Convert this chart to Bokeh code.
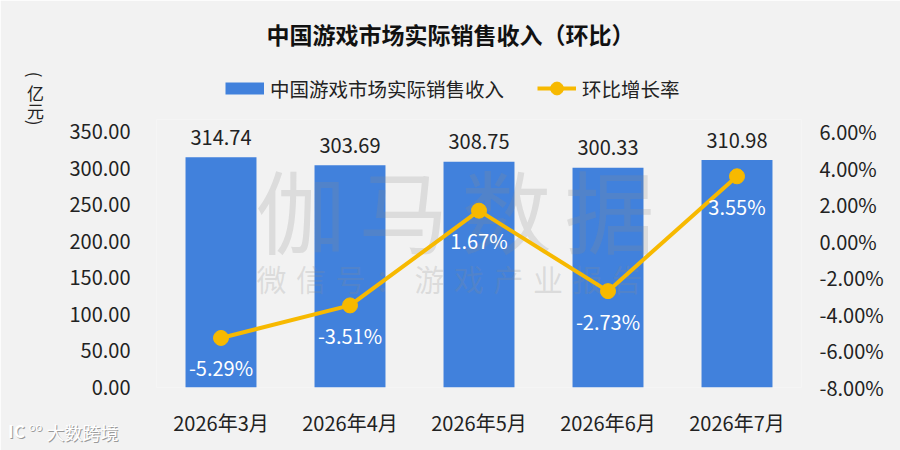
import math
from bokeh.plotting import figure
from bokeh.models import (Range1d, LinearAxis, FixedTicker, PrintfTickFormatter,
                          Legend, LegendItem, Label, ColumnDataSource, FactorRange, GridBox)
from bokeh.embed import file_html
from bokeh.resources import INLINE
from bokeh.core.properties import value

# ---------------- data ----------------
months = ["2026年3月", "2026年4月", "2026年5月", "2026年6月", "2026年7月"]
revenue = [314.74, 303.69, 308.75, 300.33, 310.98]
mom_pct = [-5.29, -3.51, 1.67, -2.73, 3.55]
left_ticks = [0, 50, 100, 150, 200, 250, 300, 350]
right_ticks = [-8, -6, -4, -2, 0, 2, 4, 6]
title_text = "中国游戏市场实际销售收入（环比）"
bar_name = "中国游戏市场实际销售收入"
line_name = "环比增长率"
unit_text = ["(", "亿", "元", ")"]
watermark_big = "伽马数据"
watermark_small = "微信号：游戏产业报告"
logo_text = "大数跨境"

# ---------------- style ----------------
FONT = "Noto Sans CJK SC"
BG = "#f2f2f2"
BLUE = "#4181dc"
GOLD = "#f7b900"
TXT = "#222222"
W, H = 900, 450
ML, MR, MB = 156, 99, 63
AXIS_TOP = 131          # pixel row of the top tick (350 / 6%)
MT = 119                # frame top, a little above so top value labels are not clipped
L_MIN, L_MAX = left_ticks[0], left_ticks[-1]
R_MIN, R_MAX = right_ticks[0], right_ticks[-1]
span_px = (H - MB) - AXIS_TOP
extra = (AXIS_TOP - MT) / span_px
L_END = L_MAX + (L_MAX - L_MIN) * extra
R_END = R_MAX + (R_MAX - R_MIN) * extra

src = ColumnDataSource(dict(
    m=months,
    rev=revenue,
    rev_lbl=[f"{v:.2f}" for v in revenue],
    mom=mom_pct,
    mom_lbl=[f"{v:.2f}%" for v in mom_pct],
))

# ---------------- main chart ----------------
p = figure(width=W, height=H, x_range=FactorRange(*months, range_padding=0),
           y_range=Range1d(L_MIN, L_END), output_backend="svg", toolbar_location=None,
           min_border_left=ML, min_border_right=MR, min_border_top=MT, min_border_bottom=MB,
           background_fill_color=BG, border_fill_color=BG, outline_line_color=None,
           frame_align=False)
p.extra_y_ranges = {"pct": Range1d(R_MIN, R_END)}
p.grid.grid_line_color = None

p.vbar(x="m", top="rev", width=0.55, source=src, fill_color=BLUE, line_color=None)
p.text(x="m", y="rev", text="rev_lbl", source=src, text_align="center",
       text_baseline="middle", y_offset=-20, text_font=value(FONT),
       text_font_size="20px", text_color=TXT)

# watermark between bars and line (frame-relative screen units)
def fx(x):
    return x - ML

def fy(y):
    return (H - MB) - y

for i, ch in enumerate(watermark_big):
    p.add_layout(Label(x=fx(300 + 103 * i), y=fy(207), x_units="screen", y_units="screen",
                       text=ch, text_align="center", text_baseline="middle",
                       text_font=FONT, text_font_size="90px", text_color="#8c8c8c",
                       text_alpha=0.22))
for i, ch in enumerate(watermark_small):
    p.add_layout(Label(x=fx(271 + 39.5 * i), y=fy(277), x_units="screen", y_units="screen",
                       text=ch, text_align="center", text_baseline="middle",
                       text_font=FONT, text_font_size="30px", text_color="#8c8c8c",
                       text_alpha=0.22))

p.line(x="m", y="mom", source=src, y_range_name="pct", line_color=GOLD,
       line_width=4, level="overlay")
p.scatter(x="m", y="mom", source=src, y_range_name="pct", size=15,
          fill_color=GOLD, line_color=GOLD, level="overlay")
p.text(x="m", y="mom", text="mom_lbl", source=src, y_range_name="pct",
       text_align="center", text_baseline="middle", y_offset=30,
       text_font=value(FONT), text_font_size="20px", text_color="white", level="overlay")

for ax in [p.xaxis[0], p.yaxis[0]]:
    ax.axis_line_color = None
    ax.major_tick_line_color = None
    ax.minor_tick_line_color = None
    ax.major_tick_out = 0
    ax.major_tick_in = 0
    ax.major_label_text_font = FONT
    ax.major_label_text_font_size = "20px"
    ax.major_label_text_color = TXT
p.xaxis.major_label_standoff = 20
p.yaxis.ticker = FixedTicker(ticks=left_ticks)
p.yaxis.formatter = PrintfTickFormatter(format="%.2f")
p.yaxis.major_label_standoff = 26

rax = LinearAxis(y_range_name="pct", ticker=FixedTicker(ticks=right_ticks),
                 formatter=PrintfTickFormatter(format="%.2f%%"),
                 axis_line_color=None, major_tick_line_color=None, minor_tick_line_color=None,
                 major_tick_out=0, major_tick_in=0, major_label_standoff=18,
                 major_label_text_font=FONT, major_label_text_font_size="20px",
                 major_label_text_color=TXT)
p.add_layout(rax, "right")

# ---------------- transparent overlay for texts outside the plot area ----------------
ov = figure(width=W, height=H, x_range=Range1d(0, W), y_range=Range1d(0, H),
            output_backend="svg", toolbar_location=None, x_axis_type=None, y_axis_type=None,
            min_border=0, background_fill_color=None, background_fill_alpha=0,
            border_fill_color=None, border_fill_alpha=0, outline_line_color=None,
            frame_align=False)

def oy(y):
    return H - y

nan = float("nan")
sw_bar = ov.line(x=[nan], y=[nan], line_color=BLUE, line_width=12)
sw_line = ov.line(x=[nan], y=[nan], line_color=GOLD, line_width=4)
sw_pt = ov.scatter(x=[nan], y=[nan], fill_color=GOLD, line_color=GOLD)

legend = Legend(items=[LegendItem(label=bar_name, renderers=[sw_bar]),
                       LegendItem(label=line_name, renderers=[sw_line, sw_pt])],
                orientation="horizontal", location=(225, H - 104),
                glyph_width=39, glyph_height=32, label_height=32, label_standoff=6,
                spacing=33, padding=0, margin=0, border_line_color=None,
                background_fill_alpha=0, label_text_font=FONT,
                label_text_font_size="19.5px", label_text_color=TXT)
ov.add_layout(legend)

ov.add_layout(Label(x=450, y=oy(33), text=title_text, text_align="center",
                    text_baseline="middle", text_font=FONT, text_font_size="23px",
                    text_font_style="bold", text_color="#111111"))

for ch, yy, ang in zip(unit_text, [74, 92, 110, 122],
                       [-math.pi / 2, 0, 0, -math.pi / 2]):
    ov.add_layout(Label(x=35, y=oy(yy), text=ch, angle=ang, text_align="center",
                        text_baseline="middle", text_font=FONT, text_font_size="17px",
                        text_color=TXT))

for dx, dy, col in [(1, 1, "#9a9a9a"), (0, 0, "white")]:
    ov.add_layout(Label(x=82 + dx, y=oy(431 + dy), text=logo_text, text_align="center",
                        text_baseline="middle", text_font=FONT, text_font_size="18px",
                        text_color=col))
    ov.add_layout(Label(x=16 + dx, y=oy(430 + dy), text="IC", text_align="center",
                        text_baseline="middle", text_font=FONT, text_font_size="17px",
                        text_font_style="bold", text_color=col))
    ov.add_layout(Label(x=35 + dx, y=oy(425 + dy), text="oo", text_align="center",
                        text_baseline="middle", text_font=FONT, text_font_size="11px",
                        text_color=col))

layout = GridBox(children=[(p, 0, 0), (ov, 0, 0)])
open("out.html", "w").write(file_html(layout, INLINE))
